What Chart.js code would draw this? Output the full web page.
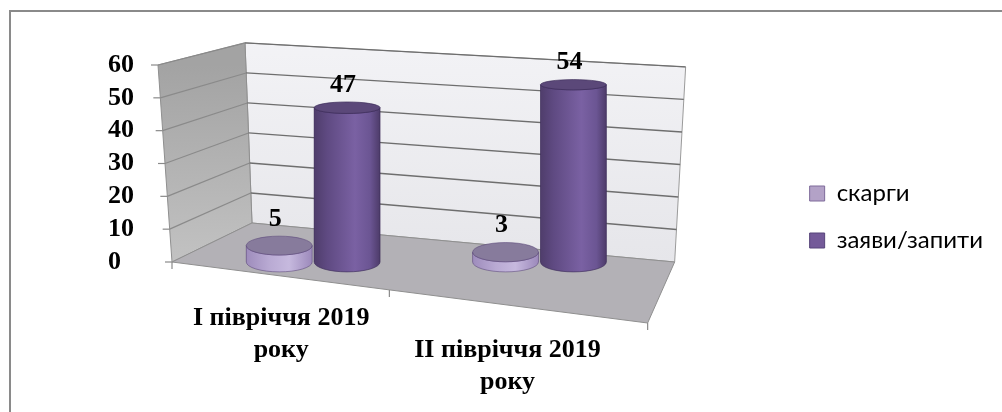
<!DOCTYPE html>
<html>
<head>
<meta charset="utf-8">
<script src="https://cdn.jsdelivr.net/npm/chart.js@4.4.1/dist/chart.umd.min.js"></script>
<style>
html,body{margin:0;padding:0;background:#fff;}
#wrap{position:relative;width:1002px;height:412px;overflow:hidden;background:#fff;}
#frame{position:absolute;left:9px;top:10px;width:1100px;height:500px;border-top:2px solid #8a8a8a;border-left:2px solid #8a8a8a;}
canvas{position:absolute;left:0;top:0;}
</style>
</head>
<body>
<div id="wrap"><div id="frame"></div><canvas id="c" width="1002" height="412"></canvas></div>
<script>
// ---- data ----
const categories = [["I півріччя 2019", "року"], ["", "II півріччя 2019", "року"]];
const seriesNames = ["скарги", "заяви/запити"];
const complaints = [5, 3];
const requests = [47, 54];
const yMin = 0;
const yMax = 60;
const yStep = 10;

// ---- styles ----
const serif = '"Liberation Serif", "Times New Roman", serif';
const cylStyles = [
  { side: [[0, '#9e8cbc'], [0.35, '#b9aad3'], [0.65, '#c6b9de'], [1, '#9c89bb']], top: '#877b9c', edge: 'rgba(90,70,120,0.7)' },
  { side: [[0, '#4f3d6b'], [0.2, '#5f4a82'], [0.62, '#7a61a3'], [0.85, '#6b5593'], [1, '#4d3b69']], top: '#5b4879', edge: 'rgba(60,44,88,0.8)' }
];

function ryFor(w, yy, T, B) {
  return w * (0.07 + 0.08 * (yy - T) / (B - T));
}

const wallPlugin = {
  id: 'walls',
  beforeDatasetsDraw(chart) {
    const { ctx, chartArea: { left: L, right: R }, scales: { y } } = chart;
    const B = y.getPixelForValue(yMin), T = y.getPixelForValue(yMax);
    const H = B - T;
    const fr = v => (B - y.getPixelForValue(v)) / H;
    const front = v => { const f = fr(v); return [L - 28 - 14 * f, y.getPixelForValue(v)]; };
    const backL = v => { const f = fr(v); return [L + 52 - 7 * f, B - 39 - f * H * 0.914]; };
    const backR = v => { const f = fr(v); return [R + 22 + 11 * f, B - f * H * 0.99]; };
    const frontR = [R - 5, B + 61];
    const poly = (pts, fill, stroke) => {
      ctx.beginPath();
      ctx.moveTo(pts[0][0], pts[0][1]);
      for (let i = 1; i < pts.length; i++) ctx.lineTo(pts[i][0], pts[i][1]);
      ctx.closePath();
      ctx.fillStyle = fill; ctx.fill();
      if (stroke) { ctx.strokeStyle = stroke; ctx.lineWidth = 1; ctx.stroke(); }
    };
    ctx.save();
    const gb = ctx.createLinearGradient(0, T - 30, 0, B);
    gb.addColorStop(0, '#f3f3f6'); gb.addColorStop(1, '#e6e6ea');
    poly([backL(yMin), backL(yMax), backR(yMax), backR(yMin)], gb, '#9a9a9a');
    const gl = ctx.createLinearGradient(0, T, 0, B);
    gl.addColorStop(0, '#a3a3a3'); gl.addColorStop(1, '#c2c2c2');
    poly([front(yMin), front(yMax), backL(yMax), backL(yMin)], gl, '#8f8f8f');
    poly([front(yMin), backL(yMin), backR(yMin), frontR], '#b3b1b6', '#8f8f8f');
    for (let v = yMin + yStep; v <= yMax; v += yStep) {
      const a = front(v), b = backL(v), c = backR(v);
      ctx.beginPath();
      ctx.moveTo(a[0], a[1]); ctx.lineTo(b[0], b[1]);
      ctx.strokeStyle = '#8a8a8a'; ctx.lineWidth = 1.2; ctx.stroke();
      ctx.beginPath();
      ctx.moveTo(b[0], b[1]); ctx.lineTo(c[0], c[1]);
      ctx.strokeStyle = '#6e6e6e'; ctx.lineWidth = 1.3; ctx.stroke();
    }
    ctx.strokeStyle = '#8a8a8a'; ctx.lineWidth = 1.2;
    for (let v = yMin; v <= yMax; v += yStep) {
      const a = front(v);
      ctx.beginPath(); ctx.moveTo(a[0] - 7, a[1]); ctx.lineTo(a[0], a[1]); ctx.stroke();
    }
    const f0 = front(yMin);
    [0, 0.457, 1].forEach(t => {
      const px = f0[0] + (frontR[0] - f0[0]) * t, py = f0[1] + (frontR[1] - f0[1]) * t;
      ctx.beginPath(); ctx.moveTo(px, py); ctx.lineTo(px, py + 7); ctx.stroke();
    });
    ctx.restore();
  }
};

const cylPlugin = {
  id: 'cyl',
  afterDatasetsDraw(chart) {
    const { ctx, scales: { y } } = chart;
    const B = y.getPixelForValue(yMin), T = y.getPixelForValue(yMax);
    const labels = [];
    [0, 1].forEach(di => {
      const meta = chart.getDatasetMeta(di);
      const st = cylStyles[di];
      meta.data.forEach((el, i) => {
        const p = el.getProps(['x', 'y', 'base', 'width'], true);
        const r = p.width / 2;
        const ryT = ryFor(p.width, p.y, T, B);
        const ryB = ryFor(p.width, p.base, T, B);
        const g = ctx.createLinearGradient(p.x - r, 0, p.x + r, 0);
        st.side.forEach(s => g.addColorStop(s[0], s[1]));
        ctx.save();
        ctx.beginPath();
        ctx.moveTo(p.x - r, p.y);
        ctx.lineTo(p.x - r, p.base);
        ctx.ellipse(p.x, p.base, r, ryB, 0, Math.PI, 0, true);
        ctx.lineTo(p.x + r, p.y);
        ctx.ellipse(p.x, p.y, r, ryT, 0, 0, Math.PI, false);
        ctx.closePath();
        ctx.fillStyle = g; ctx.fill();
        ctx.strokeStyle = st.edge; ctx.lineWidth = 0.8; ctx.stroke();
        ctx.beginPath();
        ctx.ellipse(p.x, p.y, r, ryT, 0, 0, Math.PI * 2);
        ctx.fillStyle = st.top; ctx.fill(); ctx.stroke();
        ctx.restore();
        labels.push([p.x - 4, p.y - ryT - 4, chart.data.datasets[di].data[i]]);
      });
    });
    ctx.save();
    ctx.font = 'bold 26px ' + serif;
    ctx.fillStyle = '#000';
    ctx.textAlign = 'center';
    ctx.textBaseline = 'bottom';
    labels.forEach(l => ctx.fillText(String(l[2]), l[0], l[1]));
    ctx.restore();
  }
};

new Chart(document.getElementById('c'), {
  type: 'bar',
  data: {
    labels: categories,
    datasets: [
      { label: seriesNames[0], data: complaints, backgroundColor: '#b3a2c7', borderColor: '#7e6a9a', borderWidth: 1 },
      { label: seriesNames[1], data: requests, backgroundColor: '#745a99', borderColor: '#57447a', borderWidth: 1 }
    ]
  },
  options: {
    responsive: false,
    animation: false,
    devicePixelRatio: 1,
    categoryPercentage: 0.6,
    barPercentage: 0.97,
    layout: { padding: { left: 108, top: 36, right: 9, bottom: 14 } },
    plugins: {
      title: { display: true, text: ' ', padding: 0, font: { size: 20, lineHeight: 1.45 } },
      tooltip: { enabled: false },
      legend: {
        position: 'right',
        align: 'center',
        maxWidth: 400,
        labels: {
          boxWidth: 15, boxHeight: 15, padding: 23, color: '#000',
          font: { family: 'Lato, "Open Sans", sans-serif', size: 24 }
        }
      }
    },
    scales: {
      x: {
        offset: true,
        grid: { display: false, drawTicks: false },
        border: { display: false },
        ticks: {
          maxRotation: 0, minRotation: 0, autoSkip: false, labelOffset: -32, padding: 40, color: '#000',
          font: { family: serif, size: 26, weight: 'bold', lineHeight: 1.23 }
        },
        afterFit(s) { s.height = 136; }
      },
      y: {
        min: yMin, max: yMax,
        grid: { display: false, drawTicks: false },
        border: { display: false },
        ticks: {
          stepSize: yStep, autoSkip: false, crossAlign: 'far', padding: 0, color: '#000',
          font: { family: serif, size: 26, weight: 'bold' }
        },
        afterFit(s) { s.width = 92; }
      },
      y2: {
        position: 'right',
        grid: { display: false, drawTicks: false },
        border: { display: false },
        ticks: { display: false },
        afterFit(s) { s.width = 134; }
      }
    }
  },
  plugins: [wallPlugin, cylPlugin]
});
</script>
</body>
</html>
